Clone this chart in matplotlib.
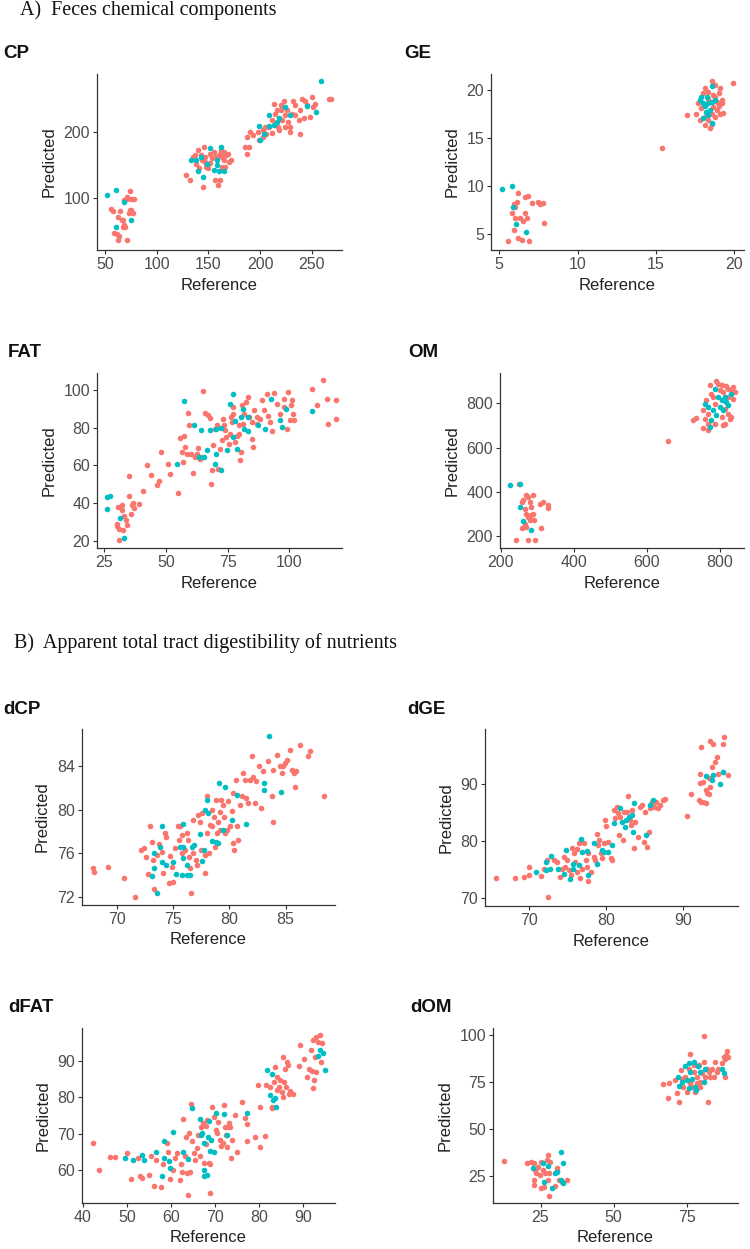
import matplotlib
matplotlib.use("Agg")
import matplotlib.pyplot as plt
import numpy as np

RED = "#F8766D"
BLUE = "#00BFC4"

# ---------------- data (Reference, Predicted) ----------------
cp_blue = [(52,104.5),(61,112),(68,94.5),(61,57),(75,67),(133,158),(138,157),(143,162),(140,141),(145,132),
           (151,175),(149,152),(155,142),(158,157),(162,177),(160,140),(165,141),(158,150),(199,208),(200,187),
           (204,197),(208,225),(208,208),(216,215),(218,220),(224,237),(229,225),(245,238),(254,229),(259,276),(213,210)]
cp_red = [(56,84),(58,80),(59,47),(63,37),(62,45),(64,42),(66,67),(68,60),(67,57),(71,37),(73,77),(74,82),(75,98),
          (71,99),(68,97),(77,77),(78,99),(74,111),(67,67),(69,57),(63,72),(65,81),(71,102),(75,82),
          (128,135),(132,127),(137,165),(140,172),(138,152),(141,145),(145,117),(147,162),(151,167),(153,160),
          (155,170),(156,127),(159,120),(161,127),(163,162),(165,170),(167,165),(170,155),(172,157),(146,177),
          (143,165),(148,147),(150,145),(163,147),(166,147),(169,167),(156,162),(147,155),(135,162),(144,157),
          (161,167),(162,172),(159,163),(151,153),(165,158),
          (185,177),(187,167),(189,177),(187,192),(190,200),(193,195),(198,200),(203,202),(206,197),(208,207),
          (211,217),(214,227),(216,232),(220,240),(221,217),(224,225),(227,215),(229,207),(231,227),(232,247),
          (234,240),(237,217),(238,232),(240,250),(242,220),(243,247),(245,240),(250,252),(251,237),(248,222),
          (238,197),(229,200),(218,202),(217,207),(211,198),(205,207),(213,242),(223,247),(266,250),(268,250),
          (253,242),(226,232),(234,225),(203,192),(199,187),(224,207),(220,232)]

ge_blue = [(5.15,9.72),(5.79,10.0),(5.89,7.85),(6.04,6.04),(6.68,5.24),(17.9,19.3),(18.55,20.4),(18.6,16.6),
           (18.0,17.05),(18.1,18.3),(18.35,18.6),(18.8,18.95),(18.2,17.7),(17.8,18.95),(18.45,17.9),(18.0,18.6),
           (18.55,18.8),(18.35,17.4),(18.25,19.3)]
ge_red = [(5.53,4.24),(5.96,8.1),(6.1,8.37),(6.17,9.24),(6.0,6.63),(5.96,5.42),(6.2,4.55),(6.43,4.38),(6.9,4.24),
          (6.3,6.63),(6.5,6.39),(6.64,7.15),(6.79,6.63),(6.64,8.9),(6.81,9.0),(7.06,8.2),(7.49,8.37),(7.6,8.1),
          (7.81,8.2),(7.87,6.18),(5.83,7.15),(6.0,7.85),(15.36,13.92),(17.0,17.4),(17.53,17.5),(19.94,20.7),
          (18.55,20.9),(18.77,20.5),(19.1,20.2),(19.2,18.95),(19.3,17.6),(19.0,18.3),(18.45,16.0),(18.1,16.35),
          (18.6,16.5),(17.8,16.9),(18.77,17.2),(18.87,17.9),(18.1,20.2),(18.35,19.8),(18.66,19.5),(18.0,19.65),
          (18.9,18.8),(17.7,18.6),(18.35,16.9),(18.55,17.55),(19.1,17.55),(19.2,18.6),(18.77,19.3),(19.0,19.65),
          (17.9,18.1),(18.35,19.1),(18.1,17.2),(18.66,18.25)]

fat_blue = [(26.2,43.2),(27.3,43.8),(26.2,36.7),(31.4,32.2),(33.0,21.6),(54.3,61.0),(57.3,94.3),(61.5,81.7),
            (64.0,78.7),(63.5,64.5),(66.5,68.1),(65.5,64.5),(68.0,78.7),(70.1,79.6),(72.4,80.1),(70.1,66.0),
            (69.7,61.0),(72.4,57.4),(74.6,68.1),(75.9,92.5),(77.0,98.2),(77.3,75.2),(78.6,69.0),(78.0,83.5),
            (80.3,85.8),(81.1,90.1),(81.4,79.6),(83.0,85.8),(83.4,78.4),(87.4,81.4),(90.1,79.6),(92.4,95.6),
            (96.2,84.0),(96.9,80.5),(98.6,90.1),(109.1,89.0)]
fat_red = [(30.7,37.9),(30.0,27.6),(30.3,29.0),(30.9,26.4),(31.1,20.2),(32.3,38.8),(32.0,36.1),(33.0,32.9),
           (32.4,25.5),(33.8,30.8),(34.1,28.2),(35.0,54.4),(35.0,43.6),(35.7,34.4),(36.3,38.8),(36.6,40.0),
           (36.9,37.6),(39.2,39.7),(40.8,46.6),(42.2,60.3),(44.0,54.8),(46.2,49.6),(47.3,51.8),(47.8,67.2),
           (50.9,61.0),(51.4,55.3),(54.7,45.4),(55.7,74.8),(56.4,67.2),(57.0,61.8),(57.4,75.9),(57.8,69.8),
           (58.5,66.3),(58.9,87.9),(59.3,81.7),(60.1,65.9),(60.8,56.0),(61.8,64.5),(62.4,65.9),(63.1,69.5),
           (63.8,63.6),(64.7,64.5),(65.1,99.5),(65.8,87.9),(66.8,86.7),(67.6,85.5),(68.1,50.3),(68.5,57.4),
           (69.2,70.7),(69.9,79.6),(70.5,81.4),(71.2,58.3),(71.9,69.0),(72.5,73.4),(73.2,84.9),(73.5,81.4),
           (73.9,78.7),(74.3,75.2),(75.3,71.6),(75.9,76.9),(76.4,85.8),(77.0,87.6),(77.8,72.5),(78.6,75.5),
           (79.7,76.9),(80.0,62.8),(80.3,67.2),(81.1,82.3),(81.6,87.6),(82.4,93.8),(83.4,96.5),(83.8,85.8),
           (84.7,74.3),(85.1,69.8),(85.7,89.4),(86.8,85.8),(88.1,84.9),(88.8,95.0),(89.5,89.7),(90.8,97.9),
           (91.5,86.2),(92.2,83.1),(92.8,78.2),(93.8,98.6),(94.9,92.5),(96.2,87.6),(97.6,95.6),(97.8,91.1),
           (98.9,79.6),(99.6,99.1),(100.3,84.0),(100.5,92.0),(101.2,94.7),(101.6,87.6),(101.9,84.0),
           (109.3,100.5),(111.1,92.0),(113.8,105.3),(115.1,95.6),(115.5,82.3),(118.8,94.7),(118.8,84.9),
           (77.3,91.1),(80.6,92.0),(76.7,83.1),(79.4,81.4),(84.7,83.1),(86.8,82.3)]

om_blue = [(225,430),(254,435),(252,332),(261,268),(284,230),(786,863),(773,693),(777,723),(791,746),(800,783),
           (805,814),(814,829),(823,791),(832,844),(768,783),(759,798),(782,768),(809,768),(818,806),(795,829)]
om_red = [(249,435),(243,182),(275,185),(293,182),(257,235),(266,257),(270,302),(261,362),(275,377),(270,385),
          (288,385),(279,355),(284,332),(257,355),(266,325),(275,287),(283,295),(288,302),(291,275),(279,272),
          (307,344),(316,355),(330,340),(330,329),(311,235),(268,242),(658,630),(727,726),(736,735),(754,690),
          (768,678),(791,901),(795,889),(805,881),(818,877),(823,866),(832,859),(841,851),(836,821),(827,731),
          (814,708),(809,701),(786,708),(768,708),(759,731),(754,768),(763,814),(777,844),(773,881),(782,829),
          (800,859),(814,776),(823,753),(832,738),(768,753),(805,738),(786,798),(809,851),(823,829),(836,874)]

dcp_blue = [(83.55,86.68),(79.08,82.42),(79.6,82.05),(80.7,81.35),(83.1,82.42),(83.1,81.75),(84.6,81.65),
            (78.05,80.9),(77.84,79.98),(78.14,79.67),(80.27,79.07),(81.48,78.7),(75.86,78.7),(74.0,78.46),
            (79.47,78.15),(77.4,77.76),(78.43,77.18),(78.82,77.0),(79.02,76.93),(76.86,76.78),(76.72,76.63),
            (75.9,76.57),(75.6,76.63),(73.85,76.57),(73.34,76.08),(77.78,76.32),(74.0,75.26),(74.38,74.95),
            (75.03,75.26),(75.92,75.56),(76.2,74.95),(77.54,75.35),(73.3,74.65),(73.1,73.9),(75.3,74.13),
            (75.77,74.04),(76.2,74.04),(76.5,74.04),(73.6,72.36)]
dcp_red = [(67.87,74.65),(68.0,74.34),(69.26,74.8),(70.65,73.73),(71.63,72.06),(72.2,76.32),(72.43,76.48),
           (72.6,75.72),(72.8,74.13),(73.0,78.52),(73.1,77.08),(73.2,75.4),(73.3,72.73),(73.55,75.87),
           (73.8,76.87),(74.0,76.17),(74.1,74.25),(74.3,77.85),(74.4,77.54),(74.6,73.28),(74.7,75.78),
           (74.9,74.74),(75.0,73.43),(75.2,76.48),(75.4,78.52),(75.5,77.24),(75.6,78.46),(75.8,77.7),
           (75.8,76.02),(76.1,76.32),(76.2,77.85),(76.3,77.24),(76.4,75.72),(76.5,74.65),(76.6,72.43),
           (76.75,79.07),(76.8,76.02),(77.0,75.4),(77.1,74.95),(77.25,79.52),(77.4,78.9),(77.5,76.32),
           (77.6,79.67),(77.8,75.87),(77.84,74.19),(78.0,81.2),(78.05,77.85),(78.2,76.02),(78.3,78.6),
           (78.43,79.98),(78.5,78.46),(78.6,79.37),(78.7,76.63),(78.8,80.9),(78.9,77.85),(79.0,78.9),
           (79.2,79.8),(79.2,78.15),(79.3,80.9),(79.4,80.44),(79.5,79.37),(79.6,77.85),(79.76,78.15),
           (79.9,80.74),(80.06,78.46),(80.2,79.83),(80.3,81.5),(80.35,76.93),(80.4,76.32),(80.6,82.72),
           (80.7,78.46),(80.8,77.24),(80.95,80.44),(81.1,81.2),(81.2,83.33),(81.4,82.72),(81.5,81.04),
           (81.7,80.6),(81.8,82.72),(81.98,84.85),(82.1,83.0),(82.3,80.6),(82.4,82.57),(82.66,84.0),
           (82.78,80.13),(83.0,83.48),(83.46,84.4),(83.76,81.2),(83.85,83.63),(83.9,78.9),(84.2,85.0),
           (84.5,84.0),(84.65,83.33),(84.8,83.94),(84.94,84.24),(85.1,84.55),(85.4,85.46),(85.53,83.63),
           (85.7,83.33),(85.8,82.1),(85.9,83.48),(86.27,85.92),(87.0,84.85),(87.2,85.3),(88.43,81.26)]

dge_blue = [(70.9,74.5),(72.2,76.3),(72.2,74.8),(72.7,75.0),(72.9,77.3),(73.8,75.1),(74.5,74.2),(74.8,78.4),
            (75.3,73.2),(75.7,76.0),(75.7,75.0),(76.5,75.7),(76.8,80.4),(76.9,78.1),(77.6,78.3),(77.7,74.0),
            (78.4,79.6),(78.8,76.0),(79.5,78.4),(79.8,78.1),(80.3,78.1),(80.8,79.3),(81.1,83.2),(81.9,85.8),
            (82.1,83.4),(82.5,82.4),(82.6,83.7),(83.0,84.3),(83.4,84.6),(83.5,81.6),(83.7,86.8),(85.2,81.0),
            (85.7,86.3),(86.1,87.2),(93.0,91.5),(93.8,90.8),(94.0,91.7),(94.8,90.1),(95.3,92.2)]
dge_red = [(65.65,73.4),(68.2,73.4),(69.4,73.7),(70.0,75.4),(70.0,74.0),(71.6,73.8),(72.5,70.1),(71.9,75.1),
           (72.3,76.6),(73.2,76.7),(73.6,76.3),(74.0,73.7),(74.3,75.1),(74.5,77.2),(74.7,75.4),(75.0,76.6),
           (75.2,74.8),(75.5,74.0),(75.6,78.8),(75.9,77.8),(76.0,76.3),(76.2,74.5),(76.3,78.5),(76.5,79.7),
           (76.65,73.4),(76.9,75.1),(77.2,79.7),(77.4,76.6),(77.5,75.4),(77.65,73.0),(77.7,77.8),(78.1,74.5),
           (78.4,77.2),(78.6,76.6),(78.8,81.3),(79.0,79.3),(79.1,80.1),(79.4,77.8),(79.5,76.9),(79.7,79.6),
           (79.9,83.7),(80.0,82.6),(80.3,79.9),(80.6,76.9),(80.8,76.7),(81.0,85.5),(81.2,84.0),(81.4,86.0),
           (81.6,84.9),(81.7,81.0),(81.9,84.3),(82.2,80.1),(82.4,85.2),(82.7,85.2),(82.9,87.9),(83.2,83.7),
           (83.3,82.8),(83.4,85.5),(83.6,78.7),(83.8,83.4),(84.2,80.7),(84.5,86.0),(84.7,86.3),(84.9,79.9),
           (85.1,85.2),(85.3,79.0),(85.6,81.6),(85.8,85.8),(86.0,86.9),(86.3,86.0),(86.5,86.9),(86.8,85.8),
           (87.1,86.3),(87.4,87.2),(87.7,87.5),(90.6,84.5),(91.1,88.3),(92.1,87.2),(92.4,86.9),(92.7,86.9),
           (93.0,86.8),(92.4,96.7),(92.3,91.9),(92.3,90.2),(92.7,90.5),(93.0,89.0),(93.2,88.5),(93.4,88.3),
           (93.5,89.6),(93.6,97.6),(93.8,93.1),(94.0,97.1),(94.2,94.0),(94.5,94.9),(94.6,91.8),(95.2,92.2),
           (95.4,98.4),(95.2,97.1),(95.9,91.7),(93.4,91.1)]

dfat_blue = [(49.5,63.2),(51.4,62.7),(53.5,64.1),(53.8,62.7),(56.7,64.9),(58.3,67.8),(58.0,58.4),(58.3,63.2),
             (59.5,62.5),(59.7,60.5),(60.5,70.5),(62.7,65.0),(63.9,62.9),(64.8,76.9),(66.5,73.9),(66.7,69.6),
             (67.1,70.1),(67.4,67.3),(67.4,60.0),(67.4,58.4),(68.2,58.6),(68.4,69.1),(68.6,73.5),(69.0,68.2),
             (68.8,65.3),(69.8,65.0),(70.2,75.7),(72.0,75.3),(72.6,69.6),(77.3,75.7),(81.7,87.4),(83.0,86.5),
             (82.4,80.6),(83.2,79.2),(83.6,79.7),(83.8,77.4),(93.4,91.3),(93.8,92.9),(94.4,92.2),(94.9,87.6)]
dfat_red = [(42.3,67.3),(43.6,60.0),(46.1,63.4),(47.2,63.4),(50.0,64.6),(51.0,57.4),(52.5,63.2),(52.9,58.4),
            (53.5,57.7),(55.0,58.6),(55.5,63.7),(56.1,55.6),(56.7,62.7),(57.8,55.4),(58.2,61.6),(59.1,67.3),
            (59.3,65.0),(59.8,57.6),(60.5,60.0),(60.8,63.2),(61.4,64.6),(62.0,57.3),(62.3,61.6),(62.6,59.5),
            (62.7,74.0),(63.1,63.7),(63.5,69.1),(63.6,59.1),(63.9,53.0),(64.1,70.2),(64.2,59.5),(64.6,78.1),
            (64.8,67.8),(65.2,64.6),(65.4,62.7),(65.8,66.0),(66.1,69.6),(66.5,63.7),(66.9,71.9),(67.3,73.0),
            (67.4,61.8),(67.9,67.1),(68.0,72.1),(68.2,73.7),(68.6,62.0),(68.9,53.6),(68.9,61.6),(69.4,77.4),
            (69.7,74.6),(70.2,71.0),(70.5,70.1),(70.7,73.3),(71.1,68.2),(71.4,66.6),(71.7,67.5),(72.0,77.8),
            (72.2,71.9),(72.4,69.6),(72.6,66.4),(72.9,71.9),(73.2,73.0),(73.3,71.9),(73.5,63.2),(73.9,68.2),
            (74.5,75.1),(75.0,64.8),(76.2,78.7),(76.7,74.2),(77.3,72.6),(77.3,67.8),(79.0,69.1),(79.8,83.3),
            (80.2,77.4),(80.2,66.4),(81.3,69.3),(81.5,83.3),(82.4,82.9),(82.8,76.9),(83.0,77.4),(83.3,84.2),
            (83.6,88.2),(84.0,82.0),(84.1,85.6),(84.5,82.9),(84.7,84.7),(85.1,81.5),(85.3,91.1),(85.5,80.1),
            (85.6,84.2),(85.8,87.9),(86.1,82.9),(86.4,89.7),(86.6,88.8),(86.8,80.9),(87.1,81.8),(87.7,81.0),
            (89.2,94.3),(89.1,88.5),(90.2,90.6),(90.8,85.6),(91.4,87.9),(91.7,92.9),(91.9,87.3),(92.3,95.7),
            (92.1,82.4),(92.4,84.7),(92.7,91.1),(92.9,87.0),(93.0,96.6),(93.4,95.2),(93.8,97.1),(94.0,89.7),
            (94.2,94.8)]

dom_blue = [(22.5,29.4),(25.9,31.7),(26.3,21.5),(27.6,30.0),(28.8,18.5),(29.9,26.4),(30.5,26.8),(32.0,37.9),
            (32.8,31.7),(32.0,22.5),(32.8,21.1),(72.1,77.7),(72.3,72.8),(73.3,75.1),(74.4,83.4),(75.6,85.1),
            (76.1,80.4),(76.7,76.8),(77.3,85.7),(77.9,72.4),(78.1,70.6),(78.8,83.4),(79.6,80.4),(80.7,75.1),
            (81.3,82.1),(87.0,81.6),(87.6,79.5),(75.0,75.9),(75.6,71.5)]
dom_red = [(12.6,33.0),(20.5,31.7),(21.9,32.1),(22.8,31.7),(23.1,28.2),(22.8,22.9),(22.8,20.2),(24.2,29.9),
           (24.8,25.5),(25.3,32.6),(25.1,18.5),(25.9,28.2),(26.5,26.4),(27.1,33.5),(27.4,36.1),(27.9,26.4),
           (28.2,32.1),(27.6,22.5),(27.9,14.4),(29.9,19.3),(30.5,27.3),(30.8,29.1),(31.3,22.9),(32.2,21.5),
           (33.9,22.9),(26.3,19.0),(23.6,26.4),
           (66.7,73.8),(68.7,66.2),(68.9,74.2),(70.9,75.9),(71.5,69.2),(72.3,64.4),(73.0,81.2),(73.8,72.4),
           (74.4,77.7),(75.0,69.8),(75.6,82.1),(76.1,89.7),(76.5,75.9),(76.9,72.4),(77.6,80.4),(77.9,69.8),
           (78.4,77.7),(79.0,83.9),(79.6,72.4),(80.1,79.5),(80.7,85.7),(81.0,99.6),(81.3,77.7),(81.8,82.1),
           (82.2,64.4),(82.4,80.4),(83.0,77.7),(83.6,82.1),(84.7,85.7),(85.3,80.4),(85.8,82.1),(87.0,84.8),
           (87.6,88.3),(87.9,77.4),(88.1,87.4),(88.7,91.5),(89.0,88.3),(88.4,89.2),(77.3,83.9),(78.4,74.2),
           (79.5,75.1),(84.1,77.7),(73.3,76.8),(76.1,74.2)]

titles = ["CP", "GE", "FAT", "OM", "dCP", "dGE", "dFAT", "dOM"]
section_titles = ["A)  Feces chemical components", "B)  Apparent total tract digestibility of nutrients"]
xticks = [[50, 100, 150, 200, 250], [5, 10, 15, 20], [25, 50, 75, 100], [200, 400, 600, 800],
          [70, 75, 80, 85], [70, 80, 90], [40, 50, 60, 70, 80, 90], [25, 50, 75]]
yticks = [[100, 200], [5, 10, 15, 20], [20, 40, 60, 80, 100], [200, 400, 600, 800],
          [72, 76, 80, 84], [70, 80, 90], [60, 70, 80, 90], [25, 50, 75, 100]]
xlims = [(42.3, 279), (4.47, 20.62), (22.0, 121.3), (198, 866.6),
         (66.92, 89.38), (64.26, 97.2), (39.8, 97.2), (8.77, 92.47)]
ylims = [(21.6, 287), (3.33, 21.67), (16.1, 109.2), (147, 936.7),
         (71.3, 87.35), (68.5, 99.8), (50.86, 99.06), (10.5, 103.7)]
panels = [(cp_red, cp_blue), (ge_red, ge_blue), (fat_red, fat_blue), (om_red, om_blue),
          (dcp_red, dcp_blue), (dge_red, dge_blue), (dfat_red, dfat_blue), (dom_red, dom_blue)]

# ---------------- layout (pixels) ----------------
W, H = 750, 1249
boxes = [(97, 74, 342, 250), (491, 74, 744, 250), (97, 373, 342, 548), (500, 373, 744, 548),
         (82, 729, 335, 905), (485, 729, 738, 906), (82, 1028, 335, 1203), (493, 1028, 738, 1203)]
title_pos = [(3, 53), (404, 53), (8, 353), (408, 353), (3, 710), (407, 710), (8, 1007), (410, 1007)]

fig = plt.figure(figsize=(W / 100, H / 100), dpi=100)
SANS = ["Liberation Sans", "DejaVu Sans"]
SERIF = ["Liberation Serif", "DejaVu Serif"]
TICKC = "#4D4D4D"

for i, (l, t, r, b) in enumerate(boxes):
    ax = fig.add_axes([l / W, 1 - b / H, (r - l) / W, (b - t) / H])
    red, blue = panels[i]
    rx, ry = zip(*red)
    bx, by = zip(*blue)
    ax.scatter(rx, ry, s=16, color=RED, linewidths=0, zorder=2)
    ax.scatter(bx, by, s=16, color=BLUE, linewidths=0, zorder=3)
    ax.set_xlim(*xlims[i])
    ax.set_ylim(*ylims[i])
    ax.set_xticks(xticks[i])
    ax.set_yticks(yticks[i])
    for side in ("top", "right"):
        ax.spines[side].set_visible(False)
    for side in ("left", "bottom"):
        ax.spines[side].set_color("#333333")
        ax.spines[side].set_linewidth(0.9)
    ax.tick_params(length=3, width=0.8, color="#333333", labelsize=11.5, labelcolor=TICKC, pad=2)
    for lab in ax.get_xticklabels() + ax.get_yticklabels():
        lab.set_family(SANS)
    ax.set_xlabel("Reference", fontsize=12, family=SANS, color="#222222", labelpad=4)
    ax.set_ylabel("Predicted", fontsize=12, family=SANS, color="#222222", labelpad=5)
    tx, ty = title_pos[i]
    fig.text(tx / W, 1 - ty / H, titles[i], fontsize=13.5, fontweight="bold", family=SANS,
             color="#111111", va="center", ha="left")

fig.text(20 / W, 1 - 10 / H, section_titles[0], fontsize=14.5, family=SERIF,
         color="#111111", va="center", ha="left")
fig.text(14 / W, 1 - 643 / H, section_titles[1], fontsize=14.5, family=SERIF,
         color="#111111", va="center", ha="left")

fig.savefig("out.png", dpi=100, facecolor="white")
